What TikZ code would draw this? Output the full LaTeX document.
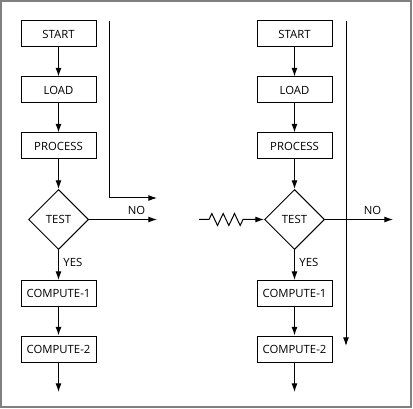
\documentclass[tikz,border=0pt]{standalone}
\usepackage{fontspec}
\setmainfont{Open Sans}
\usetikzlibrary{shapes.geometric,arrows.meta,decorations.pathmorphing}

\begin{document}
\begin{tikzpicture}[x=0.75pt, y=-0.75pt, >={Latex[length=6.5pt,width=4.5pt]},
  line width=0.75pt,
  every node/.style={font=\fontsize{8.5}{10}\selectfont},
  stepbox/.style={shape=rectangle, draw, minimum width=56.25pt, minimum height=19.5pt, inner sep=0pt},
  testbox/.style={shape=diamond, draw, minimum width=45pt, minimum height=45pt, inner sep=0pt},
  frame/.style={draw=black!50, line width=1.5pt}]

  \useasboundingbox (0,0) rectangle (413,409);
  \draw [frame] (1,1) rectangle (411,407);

  % left flow
  \node (start1) at (58.5,34) [stepbox] {START};
  \node (load1) at (58.5,90) [stepbox] {LOAD};
  \node (proc1) at (58.5,146) [stepbox] {PROCESS};
  \node (test1) at (58.5,219.5) [testbox] {TEST};
  \node (comp11) at (58.5,293.5) [stepbox] {COMPUTE-1};
  \node (comp21) at (58.5,349) [stepbox] {COMPUTE-2};
  \coordinate (out1) at (58.5,392);
  \coordinate (no1) at (157,219.5);
  \coordinate (top1) at (109,21);
  \coordinate (bend1) at (109,198);
  \coordinate (end1) at (157,198);

  \draw [->] (start1) -- (load1);
  \draw [->] (load1) -- (proc1);
  \draw [->] (proc1) -- (test1);
  \draw [->] (test1) -- node[pos=0.4, right] {YES} (comp11);
  \draw [->] (comp11) -- (comp21);
  \draw [->] (comp21) -- (out1);
  \draw [->] (test1) -- node[pos=0.7, above] {NO} (no1);
  \draw [->] (top1) -- (bend1) -- (end1);

  % right flow
  \node (start2) at (294.5,34) [stepbox] {START};
  \node (load2) at (294.5,90) [stepbox] {LOAD};
  \node (proc2) at (294.5,146) [stepbox] {PROCESS};
  \node (test2) at (294.5,219.5) [testbox] {TEST};
  \node (comp12) at (294.5,293.5) [stepbox] {COMPUTE-1};
  \node (comp22) at (294.5,349) [stepbox] {COMPUTE-2};
  \coordinate (out2) at (294.5,392);
  \coordinate (no2) at (393,219.5);
  \coordinate (top2) at (346,21);
  \coordinate (end2) at (346,346);
  \coordinate (in2) at (199,219.5);
  \coordinate (zza) at (209,219.5);
  \coordinate (zzb) at (243,219.5);

  \draw [->] (start2) -- (load2);
  \draw [->] (load2) -- (proc2);
  \draw [->] (proc2) -- (test2);
  \draw [->] (test2) -- node[pos=0.4, right] {YES} (comp12);
  \draw [->] (comp12) -- (comp22);
  \draw [->] (comp22) -- (out2);
  \draw [->] (top2) -- (end2);
  \draw [->] (test2) -- node[pos=0.7, above] {NO} (no2);
  \draw [->] (in2) -- (zza)
    decorate [decoration={zigzag, segment length=8.5pt, amplitude=4.5pt}] {-- (zzb)}
    -- (test2);
\end{tikzpicture}
\end{document}
